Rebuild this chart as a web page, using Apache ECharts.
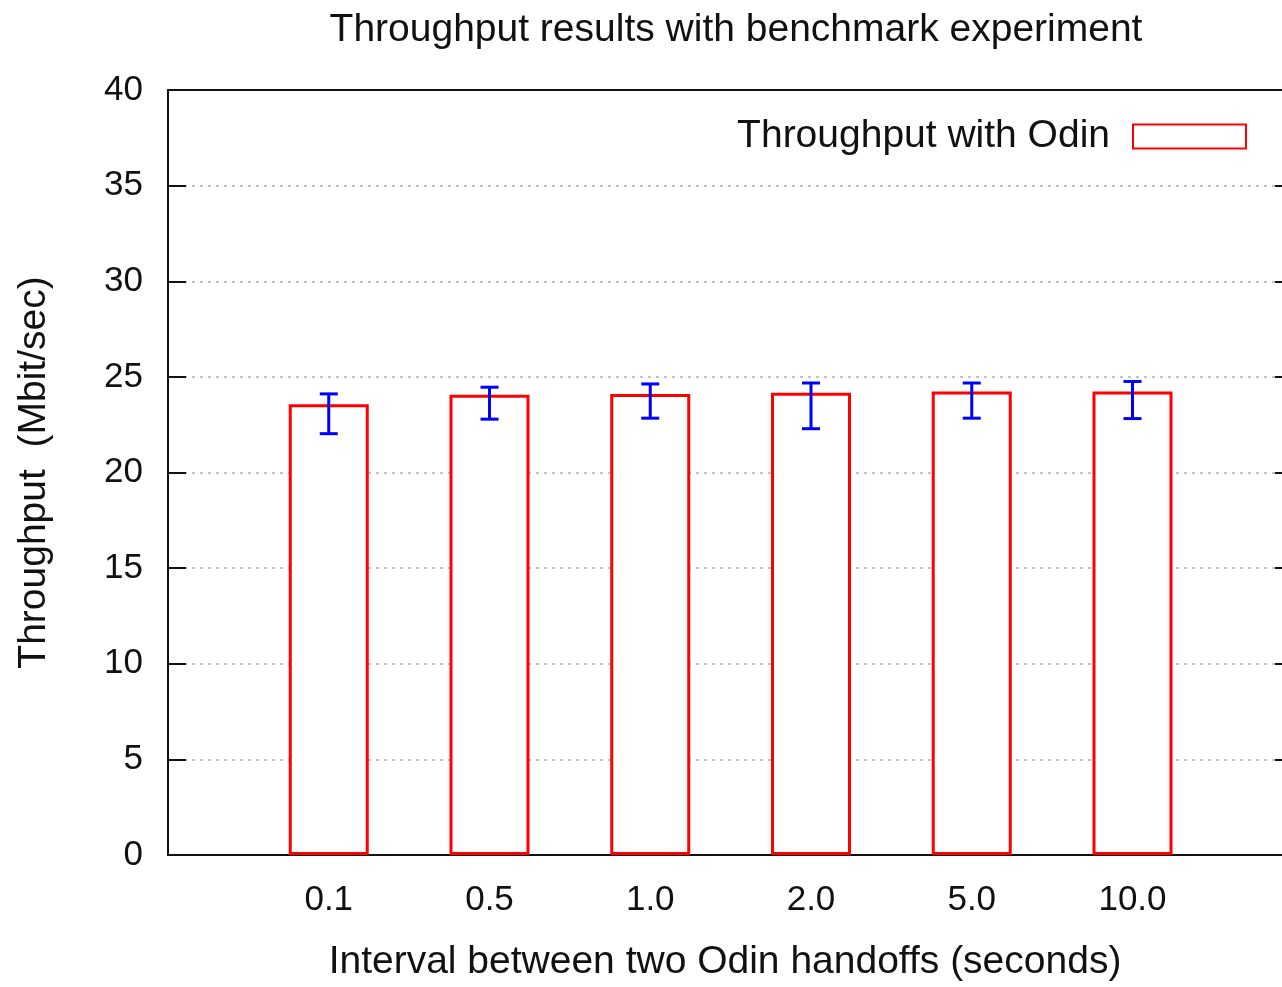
<!DOCTYPE html>
<html>
<head>
<meta charset="utf-8">
<script src="https://cdn.jsdelivr.net/npm/echarts@6/dist/echarts.min.js"></script>
<style>
  html, body { margin: 0; padding: 0; background: #fff; overflow: hidden; }
  #chart { width: 1282px; height: 987px; }
</style>
</head>
<body>
<div id="chart"></div>
<script>
// data
const categories = ['0.1', '0.5', '1.0', '2.0', '5.0', '10.0'];
const throughput = [23.57, 24.06, 24.11, 24.17, 24.24, 24.24];
const errLow = [22.03, 22.79, 22.84, 22.29, 22.84, 22.82];
const errHigh = [24.11, 24.46, 24.63, 24.68, 24.68, 24.76];
const seriesName = 'Throughput with Odin';

const font = "'Liberation Sans', Arial, sans-serif";

// the plot frame is cut off by the right edge of the picture
const xMin = -1;
const xMax = 5.93;

var myChart = echarts.init(document.getElementById('chart'));

var option = {
  animation: false,
  backgroundColor: '#fff',
  textStyle: { fontFamily: font, color: '#111' },
  title: {
    text: 'Throughput results with benchmark experiment',
    left: 731,
    textAlign: 'center',
    top: 6,
    textStyle: { fontFamily: font, fontSize: 39, fontWeight: 'normal', color: '#111' }
  },
  legend: {
    data: [{ name: seriesName, icon: 'rect' }],
    right: 30,
    top: 112,
    align: 'right',
    itemWidth: 113,
    itemHeight: 24,
    textStyle: { fontFamily: font, fontSize: 39, color: '#111', padding: [0, 18, 0, 0] }
  },
  grid: {
    left: 168,
    right: 0,
    top: 90,
    bottom: 124
  },
  xAxis: [{
    type: 'value',
    min: xMin,
    max: xMax,
    interval: 1,
    name: 'Interval between two Odin handoffs (seconds)',
    nameLocation: 'middle',
    nameGap: 88,
    nameTextStyle: { fontFamily: font, fontSize: 39, color: '#111' },
    axisLine: { show: true, onZero: false, lineStyle: { color: '#111', width: 2 } },
    axisTick: { show: true, inside: true, length: 17, lineStyle: { color: '#111', width: 2 } },
    axisLabel: {
      fontFamily: font, fontSize: 35, color: '#111', margin: 28,
      showMaxLabel: false,
      formatter: function (v) { return categories[v] || ''; }
    },
    splitLine: { show: false }
  }, {
    type: 'value',
    position: 'top',
    min: xMin,
    max: xMax,
    interval: 1,
    axisLine: { show: true, onZero: false, lineStyle: { color: '#111', width: 2 } },
    axisTick: { show: false },
    axisLabel: { show: false },
    splitLine: { show: false }
  }],
  yAxis: [{
    type: 'value',
    min: 0,
    max: 40,
    interval: 5,
    name: 'Throughput  (Mbit/sec)',
    nameLocation: 'middle',
    nameGap: 114,
    nameTextStyle: { fontFamily: font, fontSize: 39, color: '#111' },
    axisLine: { show: true, onZero: false, lineStyle: { color: '#111', width: 2 } },
    axisTick: { show: true, inside: true, length: 18, lineStyle: { color: '#111', width: 2 } },
    axisLabel: { fontFamily: font, fontSize: 35, color: '#111', margin: 25 },
    splitLine: {
      show: true,
      lineStyle: { color: '#b0b0b0', type: [3, 5], width: 1.5 }
    }
  }, {
    type: 'value',
    position: 'right',
    offset: 11,
    min: 0,
    max: 40,
    interval: 5,
    axisLine: { show: true, onZero: false, lineStyle: { color: '#111', width: 2 } },
    axisTick: { show: true, inside: true, length: 18, lineStyle: { color: '#111', width: 2 } },
    axisLabel: { show: false },
    splitLine: { show: false }
  }],
  series: [
    {
      name: seriesName,
      type: 'bar',
      barWidth: 80,
      data: throughput.map(function (v, i) { return [i, v]; }),
      itemStyle: { color: '#fff', borderColor: '#ff0000', borderWidth: 3 }
    },
    {
      name: 'error',
      type: 'custom',
      data: categories.map(function (c, i) { return [i, errLow[i], errHigh[i]]; }),
      renderItem: function (params, api) {
        var top = api.coord([api.value(0), api.value(2)]);
        var bot = api.coord([api.value(0), api.value(1)]);
        var half = 9;
        var style = { stroke: '#0000ff', lineWidth: 3 };
        return {
          type: 'group',
          children: [
            { type: 'line', shape: { x1: top[0], y1: top[1], x2: bot[0], y2: bot[1] }, style: style },
            { type: 'line', shape: { x1: top[0] - half, y1: top[1], x2: top[0] + half, y2: top[1] }, style: style },
            { type: 'line', shape: { x1: bot[0] - half, y1: bot[1], x2: bot[0] + half, y2: bot[1] }, style: style }
          ]
        };
      },
      z: 5
    }
  ]
};

myChart.setOption(option);
</script>
</body>
</html>
